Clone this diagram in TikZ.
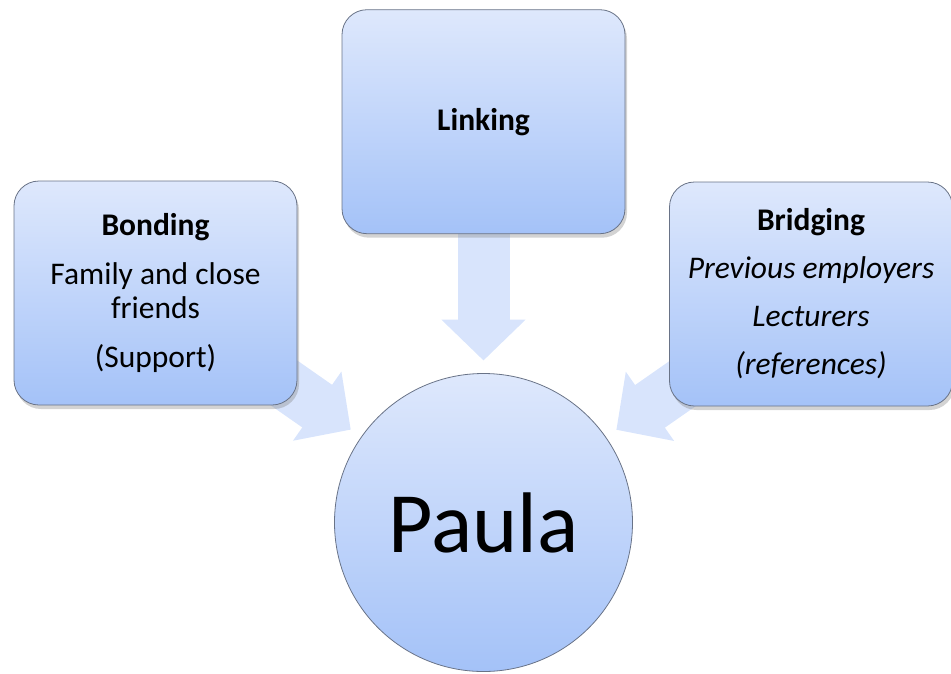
\documentclass[tikz,border=0pt]{standalone}
\usepackage{fontspec}
\setmainfont{Carlito}
\usetikzlibrary{arrows.meta,positioning,shadows,backgrounds}

\definecolor{boxtop}{RGB}{222,232,252}
\definecolor{boxbottom}{RGB}{164,194,248}
\definecolor{boxline}{RGB}{105,115,135}
\definecolor{arrowfill}{RGB}{216,228,252}

\begin{document}
\begin{tikzpicture}[
        x=1pt, y=-1pt,
        font=\fontsize{31.5}{34}\selectfont,
        box/.style={draw=boxline, line width=0.8pt, rounded corners=25pt,
            top color=boxtop, bottom color=boxbottom,
            minimum width=283pt, minimum height=224pt, align=center,
            drop shadow={shadow xshift=2pt, shadow yshift=-4pt, opacity=0.35}},
        circ/.style={circle, draw=boxline, line width=0.8pt,
            top color=boxtop, bottom color=boxbottom,
            minimum size=298pt, inner sep=0pt},
        bigarrow/.style={draw=arrowfill, line width=52pt,
            -{Triangle[width=82pt, length=41pt, fill=arrowfill]}, shorten >=162pt},
    ]
    \useasboundingbox (0,0) rectangle (951,673);
    \node[circ] (paula) at (483.5,522.5) {\fontsize{86}{90}\selectfont Paula};
    \node[box, above=139pt of paula] (link) {\textbf{Linking}};
    \node[box] (bond) at (155.5,293) {\textbf{Bonding}\\[15pt]
        Family and close\\ friends\\[15pt] (Support)};
    \node[box] (bridge) at (811,294) {\textbf{Bridging}\\[14pt]
        \textit{Previous employers}\\[14pt] \textit{Lecturers}\\[14pt]
        \textit{(references)}};
    % block arrows behind the shapes
    \begin{pgfonlayer}{background}
        \draw[bigarrow] (link.center) -- (paula.center);
        \draw[bigarrow] (bond.center) -- (paula.center);
        \draw[bigarrow] (bridge.center) -- (paula.center);
    \end{pgfonlayer}
\end{tikzpicture}
\end{document}
